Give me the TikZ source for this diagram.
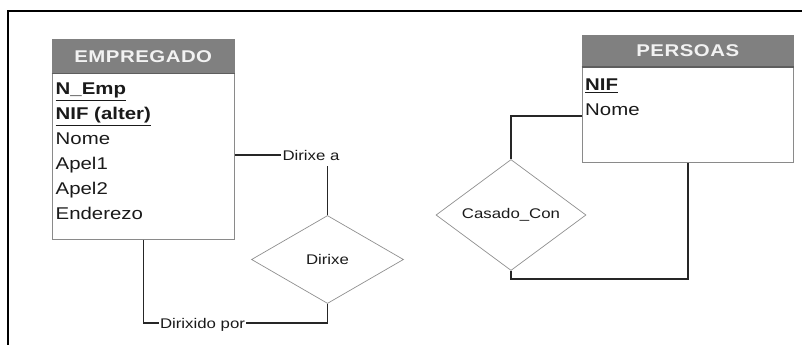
\documentclass[tikz,border=0pt]{standalone}
\usepackage{fontspec}
\setmainfont{Liberation Sans}[FakeStretch=1.2]
\usetikzlibrary{shapes.geometric,calc}
\definecolor{hdrgray}{HTML}{808080}
\definecolor{hdrdark}{HTML}{5E5E5E}
\definecolor{boxgray}{HTML}{8A8A8A}
\definecolor{diagray}{HTML}{8F8F8F}
\definecolor{txtgray}{HTML}{1A1A1A}
\begin{document}
\begin{tikzpicture}[x=1pt,y=-1pt,
  ent/.style={draw=boxgray, line width=0.8pt, fill=white, inner sep=0pt, anchor=north west},
  hdr/.style={fill=hdrgray, inner sep=0pt, anchor=north west, text=white!95!black,
    font=\bfseries\fontsize{17}{19}\selectfont\addfontfeature{LetterSpace=3}},
  fld/.style={anchor=base west, inner sep=0pt, text=txtgray, font=\fontsize{17}{19}\selectfont},
  keyfld/.style={fld, font=\bfseries\fontsize{17}{19}\selectfont},
  rel/.style={diamond, draw=diagray, line width=0.7pt, inner sep=0pt, text=txtgray,
    font=\fontsize{14}{16}\selectfont},
  lbl/.style={fill=white, inner xsep=1pt, inner ysep=1pt, text height=10pt, text depth=0pt,
    text=txtgray, font=\fontsize{14}{16}\selectfont},
  con/.style={line width=1.8pt, draw=black!85},
  hdrline/.style={draw=hdrdark, line width=1.6pt}
]
\useasboundingbox (0,0) rectangle (811,345);
% frame
\draw[line width=2.2pt] (8,345) -- (8,10.7) -- (802,10.7);

% EMPREGADO entity
\node[ent, minimum width=182.6pt, minimum height=200pt] (emp) at (51.7,39) {};
\node[hdr, minimum width=182.6pt, minimum height=34.3pt] (empH) at (51.7,39) {EMPREGADO};
\draw[hdrline] (empH.south west) -- (empH.south east);
\node[keyfld] (eNEmp) at (55.5,95) {\underline{N\_Emp}};
\node[keyfld] (eNIF) at (55.5,119.9) {\underline{NIF (alter)}};
\node[fld] (eNome) at (55.5,144.8) {Nome};
\node[fld] (eApel1) at (55.5,169.7) {Apel1};
\node[fld] (eApel2) at (55.5,194.6) {Apel2};
\node[fld] (eEnd) at (55.5,219.5) {Enderezo};

% PERSOAS entity
\node[ent, minimum width=211.6pt, minimum height=127pt] (pers) at (581.7,35) {};
\node[hdr, minimum width=211.6pt, minimum height=31.5pt] (persH) at (581.7,35) {PERSOAS};
\draw[hdrline] (persH.south west) -- (persH.south east);
\node[keyfld] (pNIF) at (585,90.75) {\underline{NIF}};
\node[fld] (pNome) at (585,115.75) {Nome};

% relationships
\node[rel, minimum width=152pt, minimum height=88pt] (dirixe) at (327.5,259.5) {Dirixe};
\node[rel, minimum width=150pt, minimum height=86pt] (casado) at (511,215) {Casado\_Con};

% role labels
\node[lbl] (lA) at (311,155) {Dirixe a};
\node[lbl] (lB) at (202.5,323.3) {Dirixido por};

% connectors
\draw[con] (emp.east |- lA) -- (lA.west);
\draw[con, shorten <=5pt] (lA.south -| dirixe.north) -- (dirixe.north);
\draw[con] (emp.south) |- (lB.west);
\draw[con] (lB.east) -| (dirixe.south);
\draw[con] (pers.west |- pNome.base) -| (casado.north);
\coordinate (cc) at (511,279.3);
\draw[con] (casado.south) -- (cc) -| (pers.south);
\end{tikzpicture}
\end{document}
